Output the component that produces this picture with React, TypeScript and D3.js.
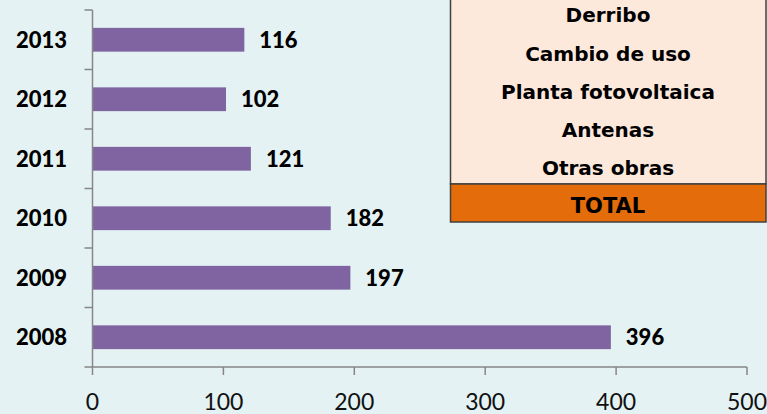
import React from "react";
import * as d3 from "d3";

const years = ["2008", "2009", "2010", "2011", "2012", "2013"];
const values = [396, 197, 182, 121, 102, 116];
const xTicks = [0, 100, 200, 300, 400, 500];
const tableRows = ["Derribo", "Cambio de uso", "Planta fotovoltaica", "Antenas", "Otras obras"];
const totalLabel = "TOTAL";

const W = 767;
const H = 414;

export default function App() {
  const x = d3.scaleLinear().domain([0, 500]).range([92.5, 747]);
  const y = d3.scaleBand().domain(years.slice().reverse()).range([10, 367]).paddingInner(0.6).paddingOuter(0.3);
  const axisColor = "#868686";
  const tickYs = d3.range(years.length + 1).map((i) => 10 + i * (357 / years.length));
  const tableFont = "'DejaVu Sans', 'Open Sans', sans-serif";
  const labelFont = "Lato, 'Open Sans', sans-serif";
  const rowH = 38.3;
  const cx = 608;
  return (
    <div style={{ position: "fixed", left: 0, top: 0 }}>
      <svg width={W} height={H} style={{ display: "block" }}>
        <rect x={0} y={0} width={W} height={H} fill="#E4F2F3" />
        {years.map((yr, i) => (
          <g key={yr}>
            <rect x={x(0)} y={y(yr)!} width={x(values[i]) - x(0)} height={y.bandwidth()} fill="#8064A2" />
            <text x={x(values[i]) + 15} y={y(yr)! + y.bandwidth() / 2} dy="0.36em" fontFamily={labelFont} fontWeight={900} fontSize={22} fill="#000">{values[i]}</text>
            <text x={67} y={y(yr)! + y.bandwidth() / 2} dy="0.36em" textAnchor="end" fontFamily={labelFont} fontWeight={900} fontSize={22} fill="#000">{yr}</text>
          </g>
        ))}
        <line x1={x(0)} x2={x(0)} y1={10} y2={367} stroke={axisColor} strokeWidth={1.5} />
        {tickYs.map((ty, i) => (
          <line key={i} x1={x(0) - 8} x2={x(0)} y1={ty} y2={ty} stroke={axisColor} strokeWidth={1.5} />
        ))}
        <line x1={x(0)} x2={x(500)} y1={367} y2={367} stroke={axisColor} strokeWidth={1.5} />
        {xTicks.map((t) => (
          <g key={t}>
            <line x1={x(t)} x2={x(t)} y1={367} y2={375} stroke={axisColor} strokeWidth={1.5} />
            <text x={x(t)} y={402} dy="0.36em" textAnchor="middle" fontFamily={labelFont} fontSize={23} fill="#111">{t}</text>
          </g>
        ))}
        <rect x={450.5} y={-5} width={315.5} height={189} fill="#FCE9DC" stroke="#404040" strokeWidth={1.5} />
        <rect x={450.5} y={184} width={315.5} height={38} fill="#E46C0A" stroke="#404040" strokeWidth={1.5} />
        {tableRows.map((r, i) => (
          <text key={r} x={cx} y={15 + i * rowH} dy="0.36em" textAnchor="middle" fontFamily={tableFont} fontWeight="bold" fontSize={20} fill="#000">{r}</text>
        ))}
        <text x={cx} y={205} dy="0.36em" textAnchor="middle" fontFamily={tableFont} fontWeight="bold" fontSize={21} fill="#000">{totalLabel}</text>
      </svg>
    </div>
  );
}
